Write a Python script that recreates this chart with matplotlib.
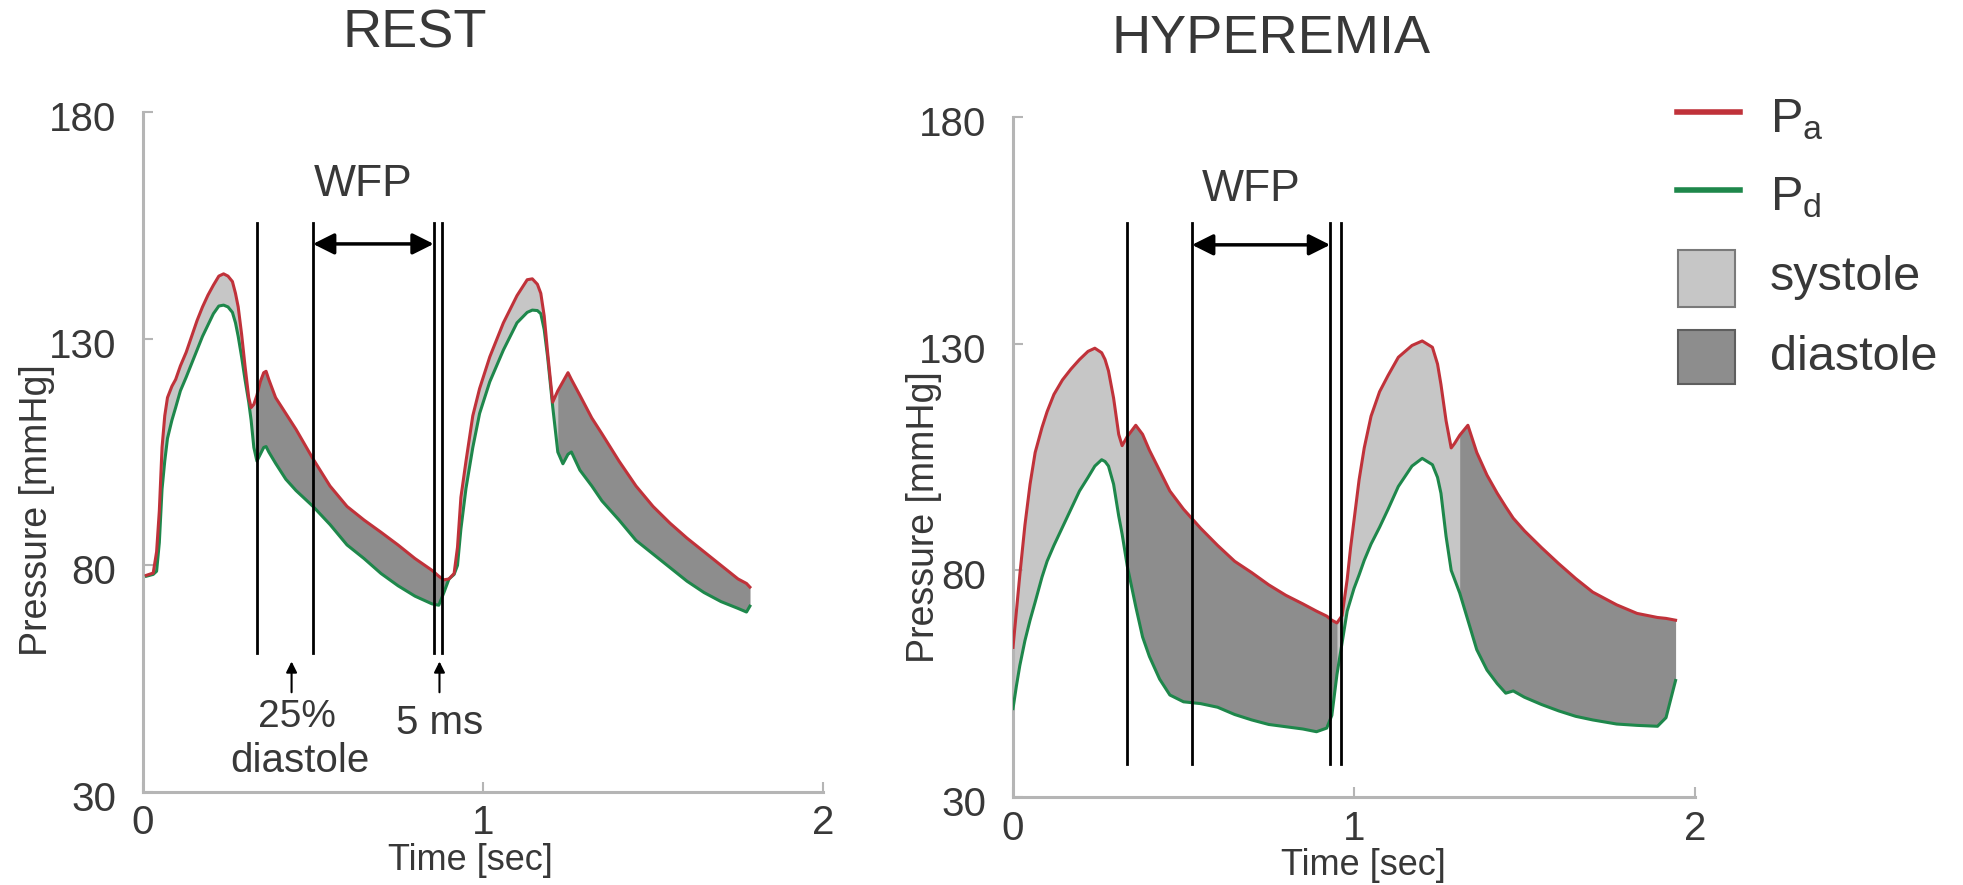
import numpy as np
import matplotlib
matplotlib.use("Agg")
import matplotlib.pyplot as plt
from matplotlib.lines import Line2D
from matplotlib.patches import Rectangle
from matplotlib.transforms import ScaledTranslation

plt.rcParams['font.family'] = ['Liberation Sans', 'DejaVu Sans']
plt.rcParams['mathtext.default'] = 'regular'

# ---- Rest recording: aortic (Pa) and distal (Pd) pressure, mmHg ----
rest_t = [0.010, 0.030, 0.040, 0.048, 0.056, 0.064, 0.072, 0.085, 0.096, 0.110,
          0.127, 0.143, 0.159, 0.175, 0.191, 0.207, 0.223, 0.237, 0.250, 0.263,
          0.272, 0.280, 0.290, 0.300, 0.311, 0.318, 0.326, 0.335, 0.345, 0.355,
          0.362, 0.370, 0.390, 0.420, 0.450, 0.500, 0.550, 0.600, 0.650, 0.700,
          0.750, 0.800, 0.850, 0.870, 0.885, 0.900, 0.915, 0.925, 0.935, 0.950,
          0.970, 0.990, 1.020, 1.060, 1.100, 1.130, 1.145, 1.160, 1.170, 1.180,
          1.190, 1.205, 1.220, 1.235, 1.250, 1.260, 1.285, 1.320, 1.350, 1.400,
          1.450, 1.500, 1.550, 1.600, 1.650, 1.700, 1.750, 1.775, 1.785]
rest_pa = [77.8, 78.3, 83.0, 92.0, 106.0, 113.0, 117.0, 119.5, 121.0, 124.0,
           127.0, 130.5, 134.0, 137.0, 139.6, 141.8, 143.8, 144.3, 143.8, 142.6,
           140.0, 137.0, 131.0, 124.0, 117.0, 114.8, 115.5, 117.5, 120.5, 122.5,
           122.8, 121.0, 117.0, 113.5, 110.0, 103.5, 97.5, 93.0, 90.0, 87.3,
           84.5, 81.5, 78.9, 77.6, 76.8, 77.0, 78.2, 84.0, 95.0, 103.0,
           113.0, 119.0, 126.0, 133.5, 139.5, 143.0, 143.2, 142.0, 140.0, 135.0,
           127.0, 116.0, 118.5, 120.5, 122.5, 121.0, 117.5, 112.5, 109.0, 103.0,
           97.5, 93.0, 89.3, 86.0, 83.0, 80.0, 77.0, 76.0, 75.2]
rest_pd = [77.6, 78.0, 78.7, 85.0, 96.8, 103.0, 108.0, 112.0, 114.8, 118.5,
           121.5, 124.5, 127.5, 130.5, 133.0, 135.5, 137.2, 137.4, 137.0, 135.8,
           133.5, 130.5, 126.0, 121.0, 116.0, 112.0, 106.0, 103.0, 104.5, 106.0,
           106.2, 105.0, 102.5, 99.0, 96.5, 93.0, 89.0, 84.5, 81.5, 78.2,
           75.5, 73.2, 71.5, 71.2, 74.0, 77.0, 78.0, 80.0, 88.0, 97.0,
           106.0, 113.5, 120.5, 127.5, 133.5, 135.8, 136.3, 136.2, 135.5, 132.0,
           126.0, 115.0, 105.0, 102.4, 104.5, 105.0, 101.0, 97.5, 94.2, 90.0,
           85.5, 82.5, 79.5, 76.5, 74.0, 72.0, 70.5, 69.7, 71.0]
rest_marks = [0.335, 0.500, 0.855, 0.878]        # vertical markers, sec
rest_diastole = [(0.335, 0.900), (1.220, 1.785)]  # diastolic spans, sec

# ---- Hyperemia recording ----
hyp_t = [0.000, 0.010, 0.020, 0.035, 0.050, 0.065, 0.085, 0.100, 0.120, 0.145,
         0.170, 0.195, 0.220, 0.240, 0.260, 0.270, 0.280, 0.295, 0.310, 0.320,
         0.335, 0.360, 0.380, 0.400, 0.430, 0.460, 0.500, 0.550, 0.600, 0.650,
         0.700, 0.750, 0.800, 0.850, 0.890, 0.920, 0.935, 0.950, 0.965, 0.980,
         0.990, 1.000, 1.015, 1.030, 1.050, 1.075, 1.100, 1.130, 1.170, 1.200,
         1.230, 1.245, 1.255, 1.270, 1.285, 1.295, 1.310, 1.334, 1.360, 1.390,
         1.420, 1.445, 1.467, 1.500, 1.550, 1.600, 1.650, 1.700, 1.770, 1.830,
         1.890, 1.915, 1.943]
hyp_pa = [63.0, 71.0, 79.0, 90.0, 99.0, 106.0, 111.5, 115.0, 118.8, 122.0,
          124.4, 126.5, 128.3, 129.0, 128.0, 126.5, 124.0, 118.0, 110.0, 107.5,
          109.5, 112.0, 110.0, 106.5, 102.0, 97.5, 93.5, 89.3, 85.5, 82.0,
          79.5, 76.8, 74.5, 72.6, 71.0, 69.9, 69.0, 68.4, 70.0, 78.0,
          85.0, 91.0, 100.0, 107.0, 114.0, 119.4, 123.0, 127.0, 129.6, 130.6,
          129.2, 125.5, 121.0, 113.0, 107.0, 108.0, 109.8, 112.0, 106.0, 101.0,
          97.0, 94.0, 91.5, 88.7, 85.0, 81.5, 78.2, 75.2, 72.4, 70.5,
          69.6, 69.4, 69.0]
hyp_pd = [49.5, 54.5, 59.0, 64.5, 69.0, 73.0, 78.5, 82.0, 85.5, 89.5,
          93.5, 97.5, 100.5, 103.0, 104.4, 104.0, 103.0, 99.0, 92.0, 88.0,
          81.0, 72.0, 65.3, 61.0, 56.0, 52.5, 51.0, 50.6, 49.8, 48.2,
          47.0, 46.0, 45.5, 45.0, 44.4, 45.2, 48.0, 57.0, 64.0, 71.0,
          73.5, 76.0, 79.0, 82.2, 85.8, 89.5, 93.5, 98.5, 103.0, 104.7,
          103.3, 100.5, 97.0, 87.5, 80.0, 78.0, 75.0, 69.0, 62.5, 58.0,
          55.0, 52.9, 53.4, 52.0, 50.4, 49.0, 47.8, 47.0, 46.1, 45.8,
          45.6, 47.5, 55.7]
hyp_marks = [0.335, 0.525, 0.930, 0.963]
hyp_diastole = [(0.335, 0.950), (1.310, 1.943)]

x_ticks = [0, 1, 2]
y_ticks = [30, 80, 130, 180]

RED = '#c0323a'
GREEN = '#1e874b'
SYS_GREY = '#c6c6c6'
DIA_GREY = '#8d8d8d'
AXIS_GREY = '#b5b5b5'
TEXT = '#383838'

fig = plt.figure(figsize=(19.63, 8.85), dpi=100)
ax1 = fig.add_axes([143 / 1963, 1 - 792 / 885, 680 / 1963, 680 / 885])
ax2 = fig.add_axes([1013 / 1963, 1 - 797 / 885, 682 / 1963, 680 / 885])


def style_axes(ax, title, title_x, xlabel_x, ylabel_x, ylabel_y):
    ax.set_xlim(0, 2)
    ax.set_ylim(30, 180)
    for side in ('top', 'right'):
        ax.spines[side].set_visible(False)
    for side in ('left', 'bottom'):
        ax.spines[side].set_color(AXIS_GREY)
        ax.spines[side].set_linewidth(2.2)
    ax.set_xticks(x_ticks)
    ax.set_yticks(y_ticks)
    ax.tick_params(direction='in', length=7, width=1.5, color=AXIS_GREY,
                   labelsize=29, labelcolor=TEXT)
    ax.tick_params(axis='x', pad=9)
    ax.tick_params(axis='y', pad=19)
    shift = ScaledTranslation(0, -4 / 100, fig.dpi_scale_trans)
    for lab in ax.get_yticklabels():
        lab.set_transform(lab.get_transform() + shift)
    ax.set_xlabel('Time [sec]', fontsize=26, color=TEXT, va='center')
    ax.xaxis.set_label_coords(xlabel_x, -0.101)
    ax.set_ylabel('Pressure [mmHg]', fontsize=27, color=TEXT, va='center')
    ax.yaxis.set_label_coords(ylabel_x, ylabel_y)
    ax.text(title_x, 1.115, title, transform=ax.transAxes, fontsize=39,
            color=TEXT, ha='center', va='center')


def draw_panel(ax, t, pa, pd, diastole, marks, mark_lo, mark_hi, arrow_p):
    t = np.asarray(t)
    pa = np.asarray(pa)
    pd = np.asarray(pd)
    ax.fill_between(t, pd, pa, color=SYS_GREY, lw=0, zorder=1)
    for a, b in diastole:
        m = (t >= a - 1e-9) & (t <= b + 1e-9)
        ax.fill_between(t[m], pd[m], pa[m], color=DIA_GREY, lw=0, zorder=2)
    ax.plot(t, pd, color=GREEN, lw=2.2, zorder=3, solid_joinstyle='round')
    ax.plot(t, pa, color=RED, lw=2.2, zorder=4, solid_joinstyle='round')
    for m in marks:
        ax.plot([m, m], [mark_lo, mark_hi], color='black', lw=2.0, zorder=5)
    ax.annotate('', xy=(marks[2], arrow_p), xytext=(marks[1], arrow_p),
                arrowprops=dict(arrowstyle='<|-|>', color='black', lw=2.5,
                                mutation_scale=32, shrinkA=0, shrinkB=0),
                zorder=6)
    ax.text((marks[1] + marks[2]) / 2 - 0.03, 163.9, 'WFP', fontsize=32,
            color=TEXT, ha='center', va='center')


draw_panel(ax1, rest_t, rest_pa, rest_pd, rest_diastole, rest_marks,
           60.6, 155.5, 150.9)
draw_panel(ax2, hyp_t, hyp_pa, hyp_pd, hyp_diastole, hyp_marks,
           37.3, 156.6, 151.8)

# annotations under the rest markers
for xa in (0.437, 0.872):
    ax1.annotate('', xy=(xa, 58.8), xytext=(xa, 52.0),
                 arrowprops=dict(arrowstyle='-|>', color='black', lw=1.5,
                                 mutation_scale=16, shrinkA=0, shrinkB=0))
ax1.text(0.452, 46.5, '25%', fontsize=28, color=TEXT, ha='center', va='center')
ax1.text(0.462, 36.8, 'diastole', fontsize=29, color=TEXT, ha='center', va='center')
ax1.text(0.871, 45.2, '5 ms', fontsize=29, color=TEXT, ha='center', va='center')

style_axes(ax1, 'REST', 0.40, 0.482, -0.156, 0.415)
style_axes(ax2, 'HYPEREMIA', 0.378, 0.514, -0.130, 0.412)

# legend, laid out in figure pixels
ov = fig.add_axes([0, 0, 1, 1])
ov.set_xlim(0, 1963)
ov.set_ylim(885, 0)
ov.axis('off')
ov.add_line(Line2D([1677, 1740], [112, 112], color=RED, lw=4))
ov.add_line(Line2D([1677, 1740], [190, 190], color=GREEN, lw=4))
ov.add_patch(Rectangle((1678, 250), 57, 57, facecolor=SYS_GREY,
                       edgecolor='#7a7a7a', lw=1.5))
ov.add_patch(Rectangle((1678, 330), 57, 54, facecolor=DIA_GREY,
                       edgecolor='#5e5e5e', lw=1.5))
ov.text(1770, 120, 'P$_a$', fontsize=35, color=TEXT, ha='left', va='center')
ov.text(1770, 198, 'P$_d$', fontsize=35, color=TEXT, ha='left', va='center')
ov.text(1770, 277, 'systole', fontsize=35, color=TEXT, ha='left', va='center')
ov.text(1770, 357, 'diastole', fontsize=35, color=TEXT, ha='left', va='center')

fig.savefig('out.png', dpi=100, facecolor='white')
